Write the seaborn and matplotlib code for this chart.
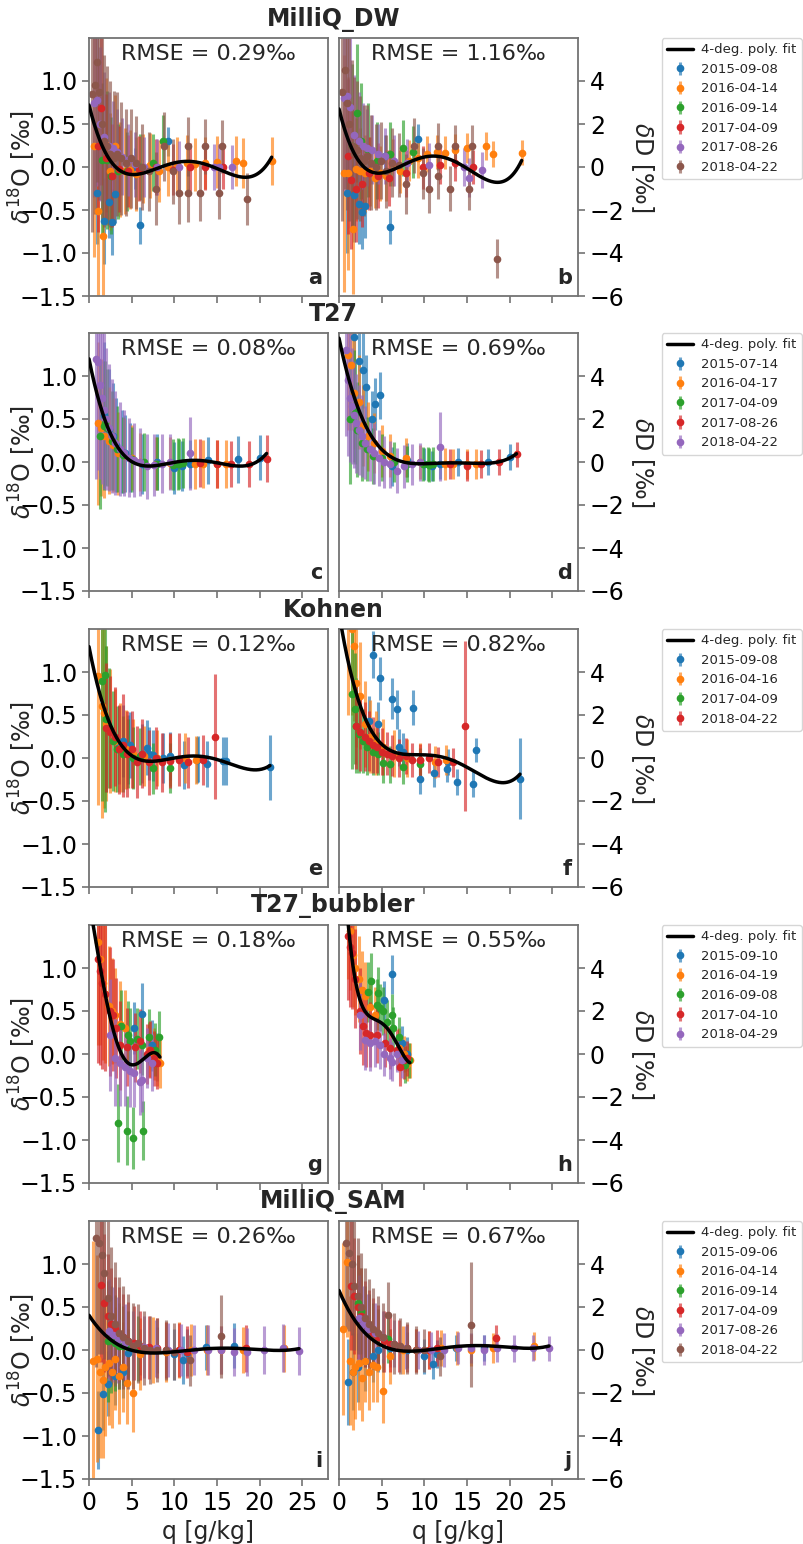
import numpy as np
import matplotlib
matplotlib.use("Agg")
import matplotlib.pyplot as plt
import seaborn as sns

# ---- MilliQ_DW ----
dw_dates = ["2015-09-08", "2016-04-14", "2016-09-14", "2017-04-09", "2017-08-26", "2018-04-22"]
dw_q = [
    [0.9, 1.7, 2.3, 2.7, 3.1, 5.4, 6.0, 9.2],
    [0.6, 1.1, 1.6, 2.0, 2.5, 3.1, 3.6, 4.2, 4.8, 5.5, 6.3, 7.2, 8.2, 9.2, 10.3, 11.5, 12.4, 13.6, 15.0, 17.2, 18.1, 21.4],
    [1.5, 2.1, 2.6, 3.4, 4.5, 6.0, 7.5, 8.7],
    [1.1, 1.4, 2.0, 2.7, 3.5, 4.6, 5.8, 7.9, 9.8, 11.8, 13.6, 15.7],
    [0.6, 0.9, 1.3, 1.8, 2.3, 2.8, 3.3, 3.9, 4.6, 5.4, 6.5, 8.0, 10.5, 14.6, 15.2, 16.7],
    [0.4, 0.7, 0.9, 1.2, 1.5, 1.8, 2.1, 2.5, 2.9, 3.3, 3.8, 4.3, 4.9, 5.5, 6.2, 7.0, 7.9, 8.8, 9.8, 10.6, 11.6, 11.6, 13.0, 13.6, 15.2, 15.6, 18.5],
]
dw_d18 = [
    [-0.30, -0.63, -0.41, -0.64, -0.31, -0.02, -0.68, 0.30],
    [0.25, -0.51, -0.80, 0.26, -0.05, 0.24, -0.03, -0.05, -0.03, -0.08, -0.02, 0.02, -0.05, 0.00, 0.02, 0.05, 0.03, 0.05, 0.06, 0.07, 0.05, 0.07],
    [0.08, 0.08, -0.10, -0.05, -0.05, 0.00, 0.05, 0.30],
    [0.25, 0.69, 0.10, -0.10, -0.02, -0.05, -0.02, 0.00, -0.03, 0.00, 0.00, 0.00],
    [0.75, 0.78, 0.50, 0.35, 0.25, 0.22, 0.18, 0.12, 0.08, 0.03, 0.00, 0.00, 0.00, 0.00, 0.00, 0.00],
    [0.85, 0.95, 1.22, 0.87, 0.50, 0.30, 0.25, 0.15, 0.10, 0.15, 0.10, 0.05, 0.10, 0.05, 0.00, -0.05, -0.25, 0.24, -0.05, -0.30, 0.24, -0.30, -0.30, 0.24, -0.30, 0.24, -0.37],
]
dw_e18 = [
    [0.60, 0.50, 0.42, 0.38, 0.34, 0.24, 0.21, 0.17],
    [1.30, 1.05, 0.90, 0.78, 0.68, 0.60, 0.55, 0.50, 0.46, 0.43, 0.40, 0.38, 0.36, 0.34, 0.33, 0.32, 0.31, 0.30, 0.30, 0.29, 0.29, 0.28],
    [0.90, 0.80, 0.68, 0.55, 0.46, 0.38, 0.33, 0.30],
    [1.00, 0.90, 0.75, 0.60, 0.50, 0.42, 0.38, 0.33, 0.30, 0.28, 0.27, 0.26],
    [1.10, 1.00, 0.90, 0.75, 0.62, 0.55, 0.50, 0.45, 0.42, 0.38, 0.35, 0.32, 0.30, 0.27, 0.27, 0.26],
    [1.60, 1.50, 1.40, 1.25, 1.10, 1.00, 0.92, 0.85, 0.78, 0.72, 0.66, 0.62, 0.58, 0.54, 0.50, 0.46, 0.42, 0.40, 0.38, 0.36, 0.34, 0.34, 0.33, 0.32, 0.31, 0.31, 0.30],
]
dw_dD = [
    [-1.2, -1.3, -1.7, -2.1, -1.8, 0.5, -2.8, 1.3],
    [-0.3, -0.3, -2.9, -0.1, -0.2, -0.3, -0.2, -0.5, -0.3, -0.4, 0.2, -0.2, 0.3, 0.4, 0.6, 0.7, 0.67, 0.8, 0.9, 0.96, 0.61, 0.67],
    [1.0, 2.5, 1.2, 0.8, 0.3, 0.6, 0.9, 0.7],
    [0.5, -0.6, -1.0, -0.8, -0.3, -0.4, -0.5, -0.3, 0.0, 0.1, 0.2, 0.0],
    [3.2, 3.3, 2.8, 1.5, 1.2, 1.0, 0.9, 0.8, 0.6, 0.5, 0.3, 0.2, 0.1, 0.0, -0.5, -0.14],
    [3.5, 4.5, 3.0, 2.0, 1.0, 0.6, 0.8, 0.4, 0.3, 0.5, 0.2, 0.0, 0.3, -0.2, 0.2, 0.1, -0.8, 1.0, -0.3, -1.0, 0.96, -0.4, -1.0, 0.96, -1.0, 0.96, -4.27],
]
dw_eD = [
    [2.8, 2.2, 1.9, 1.7, 1.5, 1.0, 0.8, 0.7],
    [5.5, 4.5, 3.0, 2.4, 2.0, 1.8, 1.6, 1.4, 1.3, 1.2, 1.1, 1.0, 0.95, 0.9, 0.85, 0.8, 0.75, 0.72, 0.7, 0.65, 0.62, 0.6],
    [3.8, 3.2, 2.7, 2.2, 1.8, 1.5, 1.3, 1.2],
    [3.6, 3.2, 2.5, 2.0, 1.7, 1.5, 1.3, 1.1, 1.0, 0.9, 0.85, 0.8],
    [4.3, 4.0, 3.5, 2.8, 2.3, 2.0, 1.8, 1.6, 1.4, 1.3, 1.2, 1.1, 1.0, 0.9, 0.9, 0.85],
    [6.0, 5.5, 5.0, 4.5, 4.0, 3.6, 3.2, 2.9, 2.6, 2.4, 2.2, 2.0, 1.8, 1.7, 1.6, 1.5, 1.4, 1.3, 1.2, 1.15, 1.1, 1.1, 1.05, 1.0, 1.0, 1.0, 0.9],
]

# ---- T27 ----
t27_dates = ["2015-07-14", "2016-04-17", "2017-04-09", "2017-08-26", "2018-04-22"]
t27_q = [
    [1.8, 2.3, 2.8, 3.2, 3.9, 4.2, 4.8, 6.2, 8.0, 10.0, 10.9, 11.8, 14.0, 17.5, 20.0],
    [1.0, 1.4, 1.7, 2.3, 2.8, 3.4, 4.1, 5.0, 6.0, 7.9, 9.5, 12.4, 13.4, 15.0, 16.0],
    [1.3, 1.7, 1.9, 2.1, 2.7, 3.3, 4.0, 5.0, 6.4, 8.0, 9.8, 10.4, 10.6, 11.0],
    [13.0, 15.0, 16.6, 18.7, 20.8],
    [0.8, 1.0, 1.3, 1.5, 1.7, 2.0, 2.3, 2.7, 3.1, 3.6, 4.1, 4.7, 5.3, 6.0, 6.8, 7.6, 8.6, 9.5, 11.8],
]
t27_d18 = [
    [0.55, 0.38, 0.30, 0.20, 0.12, 0.10, 0.05, -0.02, 0.00, -0.07, -0.05, -0.02, 0.02, 0.03, 0.05],
    [0.45, 0.40, 0.30, 0.25, 0.20, 0.10, 0.08, 0.05, 0.00, -0.02, -0.01, -0.02, -0.02, -0.02, -0.02],
    [0.30, 0.42, 0.45, 0.40, 0.25, 0.15, 0.08, 0.03, 0.00, -0.02, -0.03, -0.02, -0.02, -0.01],
    [-0.01, -0.02, -0.02, -0.02, 0.04],
    [1.20, 1.16, 0.90, 0.75, 0.61, 0.50, 0.40, 0.30, 0.22, 0.15, 0.10, 0.05, 0.02, 0.00, -0.05, -0.03, -0.02, 0.00, 0.10],
]
t27_e18 = [
    [0.85, 0.70, 0.62, 0.55, 0.48, 0.45, 0.40, 0.35, 0.32, 0.30, 0.29, 0.28, 0.27, 0.27, 0.26],
    [0.95, 0.80, 0.72, 0.62, 0.55, 0.48, 0.43, 0.38, 0.34, 0.31, 0.30, 0.29, 0.28, 0.28, 0.28],
    [0.85, 0.75, 0.72, 0.68, 0.58, 0.50, 0.44, 0.38, 0.34, 0.31, 0.30, 0.30, 0.29, 0.29],
    [0.28, 0.28, 0.27, 0.27, 0.27],
    [1.40, 1.25, 1.10, 1.00, 0.92, 0.82, 0.74, 0.66, 0.60, 0.55, 0.50, 0.46, 0.43, 0.40, 0.38, 0.36, 0.34, 0.33, 0.42],
]
t27_dD = [
    [5.8, 4.7, 4.3, 3.5, 2.0, 2.7, 3.1, -0.2, 0.1, -0.1, -0.2, -0.1, 0.0, 0.0, 0.25],
    [5.0, 4.5, 3.2, 2.8, 1.7, 1.2, 0.9, 0.5, 0.3, 0.2, 0.0, -0.1, -0.1, -0.1, -0.1],
    [2.0, 2.6, 2.3, 1.5, 0.9, 0.6, 0.3, 0.2, 0.0, -0.1, -0.1, -0.1, -0.15, -0.1],
    [-0.1, -0.2, -0.1, 0.0, 0.35],
    [5.2, 3.8, 3.0, 2.6, 2.2, 1.8, 1.5, 1.2, 0.9, 0.6, 0.4, 0.2, 0.0, -0.1, -0.4, -0.2, -0.1, 0.0, 0.72],
]
t27_eD = [
    [2.5, 2.0, 1.8, 1.5, 1.3, 1.2, 1.1, 0.9, 0.8, 0.75, 0.7, 0.7, 0.65, 0.6, 0.6],
    [3.5, 3.0, 2.6, 2.2, 1.9, 1.6, 1.4, 1.2, 1.0, 0.9, 0.8, 0.75, 0.7, 0.7, 0.7],
    [3.0, 2.6, 2.4, 2.2, 1.8, 1.5, 1.3, 1.1, 0.95, 0.85, 0.8, 0.8, 0.78, 0.78],
    [0.7, 0.7, 0.65, 0.6, 0.6],
    [4.0, 3.5, 3.0, 2.7, 2.5, 2.3, 2.1, 1.9, 1.7, 1.5, 1.4, 1.3, 1.2, 1.1, 1.05, 1.0, 0.95, 0.9, 1.6],
]

# ---- Kohnen ----
koh_dates = ["2015-09-08", "2016-04-16", "2017-04-09", "2018-04-22"]
koh_q = [
    [3.5, 4.0, 4.6, 4.8, 6.2, 6.8, 7.0, 7.5, 8.7, 9.5, 11.1, 12.6, 12.8, 13.8, 15.7, 16.1, 21.2],
    [1.1, 1.5, 1.7, 2.0, 2.5, 3.0, 3.6, 4.3, 5.2, 6.5, 8.0, 9.5, 11.3, 12.5],
    [1.5, 1.9, 2.0, 2.4, 2.8, 3.3, 4.0, 4.6, 5.2, 6.0, 7.5, 9.5],
    [2.0, 2.5, 3.0, 3.5, 4.0, 4.4, 5.0, 5.6, 6.2, 7.0, 7.8, 8.6, 9.5, 10.5, 11.6, 13.3, 14.8],
]
koh_d18 = [
    [0.15, 0.20, 0.10, 0.15, 0.05, 0.12, 0.05, 0.03, 0.00, 0.02, -0.08, -0.02, -0.01, -0.07, -0.03, -0.03, -0.11],
    [0.95, 0.60, 0.52, 0.40, 0.31, 0.20, 0.12, 0.10, 0.05, 0.02, 0.00, -0.02, 0.00, -0.02],
    [0.90, 0.97, 0.45, 0.35, 0.20, 0.10, 0.05, 0.05, 0.00, 0.02, -0.12, -0.12],
    [0.35, 0.30, 0.25, 0.10, 0.15, 0.05, 0.10, -0.05, 0.05, -0.05, 0.00, -0.05, -0.03, -0.02, -0.05, -0.02, 0.25],
]
koh_e18 = [
    [0.45, 0.42, 0.40, 0.38, 0.34, 0.32, 0.31, 0.30, 0.29, 0.28, 0.28, 0.27, 0.27, 0.27, 0.28, 0.28, 0.38],
    [1.50, 1.30, 1.10, 0.90, 0.72, 0.60, 0.52, 0.46, 0.40, 0.35, 0.32, 0.30, 0.29, 0.28],
    [1.40, 1.60, 0.85, 0.70, 0.58, 0.50, 0.44, 0.40, 0.36, 0.33, 0.30, 0.29],
    [0.75, 0.65, 0.58, 0.52, 0.60, 0.50, 0.45, 0.42, 0.40, 0.38, 0.36, 0.34, 0.32, 0.31, 0.30, 0.29, 0.73],
]
koh_dD = [
    [1.7, 4.8, 1.6, 3.7, 2.75, 2.26, 0.5, 0.3, 2.34, -0.96, -0.72, -0.53, -0.2, -1.1, -1.2, 0.38, -0.96],
    [6.5, 6.0, 5.2, 3.5, 2.9, 1.6, 1.0, 0.7, 0.5, 0.2, 0.0, -0.1, -0.2, -0.1],
    [3.0, 2.3, 1.5, 1.1, 0.8, 0.5, 0.3, 0.2, -0.25, -0.3, -0.4, -0.3],
    [1.5, 1.2, 1.0, 0.8, 0.6, 0.5, 0.3, 0.2, 0.1, 0.0, 0.1, -0.1, -0.1, 0.0, -0.2, -0.2, 1.47],
]
koh_eD = [
    [1.2, 1.1, 1.0, 1.0, 0.95, 0.9, 0.85, 0.85, 0.8, 0.7, 0.65, 0.6, 0.6, 0.6, 0.6, 0.55, 1.9],
    [4.5, 4.0, 3.5, 3.0, 2.5, 2.0, 1.7, 1.5, 1.3, 1.1, 0.9, 0.8, 0.75, 0.7],
    [3.5, 2.6, 2.2, 1.8, 1.5, 1.3, 1.1, 1.0, 0.9, 0.85, 0.8, 0.75],
    [2.0, 1.8, 1.6, 1.4, 1.3, 1.2, 1.1, 1.0, 0.95, 0.9, 0.85, 0.8, 0.75, 0.72, 0.7, 0.68, 3.95],
]

# ---- T27_bubbler ----
bub_dates = ["2015-09-10", "2016-04-19", "2016-09-08", "2017-04-10", "2018-04-29"]
bub_q = [
    [5.3, 6.2, 7.4, 8.0],
    [1.0, 1.3, 1.6, 1.9, 2.3, 2.7, 3.1, 3.6, 4.2, 7.0, 7.6, 8.0, 8.3],
    [3.4, 3.8, 4.4, 4.6, 4.8, 5.2, 5.6, 6.2, 6.3, 7.0, 7.7, 8.2],
    [1.0, 1.3, 1.5, 1.9, 2.5, 2.8, 3.2, 3.6, 4.4, 5.4, 6.0, 6.8, 7.2, 7.6, 8.0],
    [2.5, 3.1, 3.6, 4.2, 4.8, 5.3, 6.0, 6.2, 6.8, 7.4],
]
bub_d18 = [
    [0.30, 0.46, 0.10, -0.03],
    [1.30, 1.10, 0.83, 0.70, 0.56, 0.50, 0.45, 0.35, 0.30, 0.05, 0.00, -0.07, -0.10],
    [-0.80, 0.32, -0.89, 0.22, 0.15, -0.98, 0.18, 0.10, -0.89, 0.20, 0.05, 0.20],
    [1.10, 0.97, 0.83, 0.70, 0.50, 0.45, 0.30, 0.10, 0.08, 0.08, 0.15, 0.00, 0.05, -0.05, -0.10],
    [0.22, -0.05, -0.10, -0.15, -0.20, -0.22, -0.33, -0.30, -0.05, -0.10],
]
bub_e18 = [
    [0.30, 0.37, 0.30, 0.28],
    [1.20, 1.00, 0.90, 0.80, 0.70, 0.62, 0.55, 0.50, 0.45, 0.32, 0.30, 0.30, 0.30],
    [0.45, 0.42, 0.40, 0.40, 0.38, 0.36, 0.35, 0.34, 0.34, 0.32, 0.31, 0.30],
    [1.20, 1.10, 1.00, 0.90, 0.75, 0.65, 0.58, 0.52, 0.45, 0.40, 0.37, 0.35, 0.33, 0.32, 0.31],
    [0.65, 0.55, 0.50, 0.45, 0.42, 0.40, 0.38, 0.37, 0.35, 0.33],
]
bub_dD = [
    [2.5, 3.7, 0.5, 0.0],
    [6.5, 5.7, 4.6, 4.0, 3.5, 3.0, 2.7, 2.2, 1.8, 0.3, 0.0, -0.45, -0.3],
    [2.9, 3.4, 2.3, 2.85, 2.15, 2.0, 1.5, 1.8, 1.2, 0.8, -0.5, -0.3],
    [5.5, 5.0, 4.7, 3.5, 2.0, 1.3, 1.0, 0.9, 0.9, 0.5, 0.3, 0.2, -0.6, -0.3, -0.2],
    [1.8, 0.65, 0.5, 0.6, 0.4, 0.0, -0.2, -0.35, 0.0, -0.3],
]
bub_eD = [
    [0.9, 0.9, 0.8, 0.8],
    [3.0, 2.7, 2.4, 2.2, 2.0, 1.8, 1.6, 1.4, 1.3, 0.9, 0.85, 0.8, 0.8],
    [1.4, 1.3, 1.2, 1.2, 1.1, 1.1, 1.0, 1.0, 1.0, 0.9, 0.85, 0.8],
    [3.0, 2.8, 2.6, 2.3, 2.0, 1.8, 1.6, 1.5, 1.3, 1.1, 1.0, 0.95, 0.9, 0.85, 0.8],
    [1.6, 1.4, 1.3, 1.2, 1.1, 1.0, 0.95, 0.9, 0.85, 0.8],
]

# ---- MilliQ_SAM ----
sam_dates = ["2015-09-06", "2016-04-14", "2016-09-14", "2017-04-09", "2017-08-26", "2018-04-22"]
sam_q = [
    [1.0, 1.6, 2.2, 3.0, 4.0, 4.6, 6.0, 8.0, 10.0, 11.0, 11.5, 13.7, 17.0],
    [0.5, 0.9, 1.3, 1.6, 1.9, 2.3, 2.7, 3.1, 3.5, 4.0, 4.5, 5.2, 6.0, 7.5, 9.0, 10.5, 12.0, 13.8, 15.5, 18.0, 22.9],
    [2.2, 2.6, 3.0, 3.5, 4.0, 4.6, 5.7],
    [1.4, 1.8, 2.2, 2.6, 3.0, 3.5, 4.0, 4.6, 5.3, 6.0, 7.0, 8.0, 9.0, 10.6, 11.5, 18.4],
    [2.3, 2.8, 3.4, 4.2, 5.2, 6.4, 7.8, 9.3, 10.8, 12.3, 13.9, 15.5, 17.0, 18.5, 20.5, 22.7, 24.6],
    [0.8, 1.2, 1.5, 1.8, 2.2, 2.6, 3.0, 3.5, 4.0, 4.6, 5.2, 5.7, 6.4, 7.2, 8.0, 9.0, 10.0, 11.8, 15.5],
]
sam_d18 = [
    [-0.93, -0.51, -0.39, -0.30, -0.26, -0.03, -0.02, 0.00, -0.05, -0.12, -0.03, 0.03, 0.05],
    [-0.13, -0.10, -0.25, -0.35, -0.20, -0.15, -0.25, -0.10, -0.30, -0.20, -0.38, -0.50, -0.05, 0.00, -0.02, 0.00, 0.00, 0.00, 0.00, 0.00, 0.02],
    [0.10, 0.12, 0.08, 0.05, 0.05, 0.03, 0.02],
    [0.76, 0.55, 0.40, 0.30, 0.25, 0.18, 0.15, 0.10, 0.08, 0.05, 0.03, 0.02, 0.00, 0.00, -0.02, 0.02],
    [0.22, 0.18, 0.12, 0.08, 0.05, 0.03, 0.02, 0.00, 0.00, 0.00, 0.00, 0.00, -0.02, -0.02, 0.00, 0.02, -0.01],
    [1.30, 1.25, 1.10, 0.90, 0.60, 0.40, 0.30, 0.20, 0.15, 0.10, 0.05, 0.08, 0.02, 0.00, 0.00, 0.00, -0.02, -0.12, 0.16],
]
sam_e18 = [
    [0.45, 0.42, 0.38, 0.34, 0.30, 0.28, 0.27, 0.27, 0.30, 0.28, 0.27, 0.26, 0.26],
    [1.40, 1.20, 1.00, 0.90, 0.80, 0.72, 0.66, 0.60, 0.56, 0.52, 0.48, 0.45, 0.42, 0.38, 0.35, 0.32, 0.30, 0.29, 0.28, 0.27, 0.27],
    [0.70, 0.62, 0.56, 0.50, 0.46, 0.42, 0.38],
    [0.90, 0.80, 0.72, 0.65, 0.60, 0.55, 0.50, 0.46, 0.43, 0.40, 0.37, 0.35, 0.33, 0.31, 0.30, 0.27],
    [0.60, 0.55, 0.50, 0.45, 0.40, 0.36, 0.33, 0.31, 0.30, 0.29, 0.29, 0.28, 0.28, 0.28, 0.28, 0.28, 0.28],
    [1.50, 1.30, 1.15, 1.00, 0.90, 0.80, 0.72, 0.65, 0.60, 0.55, 0.50, 0.46, 0.43, 0.40, 0.37, 0.35, 0.33, 0.30, 0.48],
]
sam_dD = [
    [-1.5, -1.0, -0.8, -0.5, -0.3, 0.0, 0.1, 0.0, -0.3, -0.63, -0.2, 0.1, 0.1],
    [1.0, 4.1, -0.5, -1.0, -0.8, -0.6, -1.3, -0.5, -1.0, -0.7, -0.8, -1.9, -0.3, 0.0, 0.0, 0.0, 0.1, 0.1, 0.0, 0.1, 0.2],
    [2.2, 1.8, 1.2, 1.0, 0.8, 0.6, 0.5],
    [3.0, 2.5, 2.0, 1.6, 1.2, 1.0, 0.8, 0.6, 0.4, 0.3, 0.2, 0.1, 0.0, 0.0, 0.1, 0.55],
    [1.5, 1.2, 1.0, 0.8, 0.6, 0.3, 0.1, 0.0, 0.0, 0.0, 0.1, 0.1, 0.0, 0.1, 0.07, 0.1, 0.07],
    [5.0, 4.5, 4.0, 3.0, 2.5, 2.0, 1.5, 1.2, 1.0, 0.8, 0.6, 1.65, 0.3, 0.2, 0.1, 0.0, 0.0, -0.3, 1.18],
]
sam_eD = [
    [2.0, 1.8, 1.6, 1.4, 1.2, 1.0, 0.9, 0.85, 0.8, 0.7, 0.65, 0.6, 0.6],
    [4.0, 3.5, 3.0, 2.7, 2.4, 2.2, 2.0, 1.9, 1.8, 1.7, 1.6, 1.5, 1.3, 1.1, 1.0, 0.9, 0.85, 0.8, 0.75, 0.7, 0.65],
    [2.2, 2.0, 1.8, 1.6, 1.4, 1.3, 1.1],
    [3.0, 2.7, 2.4, 2.2, 2.0, 1.8, 1.6, 1.5, 1.4, 1.3, 1.2, 1.1, 1.0, 0.9, 0.85, 0.6],
    [2.0, 1.8, 1.6, 1.4, 1.2, 1.1, 1.0, 0.9, 0.85, 0.8, 0.75, 0.7, 0.7, 0.65, 0.65, 0.6, 0.6],
    [4.0, 3.6, 3.3, 3.0, 2.7, 2.5, 2.3, 2.1, 1.9, 1.7, 1.6, 1.5, 1.4, 1.3, 1.2, 1.1, 1.0, 0.9, 2.9],
]

row_titles = ["MilliQ_DW", "T27", "Kohnen", "T27_bubbler", "MilliQ_SAM"]
rmse_18O = ["0.29", "0.08", "0.12", "0.18", "0.26"]
rmse_D = ["1.16", "0.69", "0.82", "0.55", "0.67"]
panel_letters = ["a", "b", "c", "d", "e", "f", "g", "h", "i", "j"]

rows = [
    (dw_dates, dw_q, dw_d18, dw_e18, dw_dD, dw_eD),
    (t27_dates, t27_q, t27_d18, t27_e18, t27_dD, t27_eD),
    (koh_dates, koh_q, koh_d18, koh_e18, koh_dD, koh_eD),
    (bub_dates, bub_q, bub_d18, bub_e18, bub_dD, bub_eD),
    (sam_dates, sam_q, sam_d18, sam_e18, sam_dD, sam_eD),
]

sns.set_style("ticks")
plt.rcParams["font.family"] = ["DejaVu Sans"]
plt.rcParams["axes.edgecolor"] = "0.45"
plt.rcParams["axes.linewidth"] = 1.3
plt.rcParams["xtick.color"] = "0.45"
plt.rcParams["ytick.color"] = "0.45"
plt.rcParams["xtick.labelcolor"] = "black"
plt.rcParams["ytick.labelcolor"] = "black"
palette = sns.color_palette("tab10")

W, H = 804, 1544
fig = plt.figure(figsize=(W / 100, H / 100), dpi=100)

row_tops = [38, 333, 629, 925, 1221]
ax_h = 258
ax_w = 239
lefts = [89, 339]


def draw_panel(ax, q, vals, errs, dates, colors):
    conts = []
    for i in range(len(dates)):
        c = colors[i]
        cont = ax.errorbar(q[i], vals[i], yerr=errs[i], fmt="o", color=c, ms=4.5,
                           ecolor=(c[0], c[1], c[2], 0.65), elinewidth=2.2, capsize=0,
                           label=dates[i], zorder=2)
        conts.append(cont)
    # 4th degree polynomial through all dates of the row
    allq = np.concatenate([np.asarray(a) for a in q])
    allv = np.concatenate([np.asarray(a) for a in vals])
    coef = np.polyfit(allq, allv, 4)
    qq = np.linspace(0, allq.max(), 200)
    sns.lineplot(x=qq, y=np.polyval(coef, qq), color="black", lw=2.5, ax=ax,
                 legend=False, zorder=3)
    return conts, ax.lines[-1]


for r, (dates, q, d18, e18, dD, eD) in enumerate(rows):
    top = row_tops[r]
    bottom = H - top - ax_h
    axL = fig.add_axes([lefts[0] / W, bottom / H, ax_w / W, ax_h / H])
    axR = fig.add_axes([lefts[1] / W, bottom / H, ax_w / W, ax_h / H])
    colors = palette[:len(dates)]

    draw_panel(axL, q, d18, e18, dates, colors)
    conts, fit_line = draw_panel(axR, q, dD, eD, dates, colors)

    for ax in (axL, axR):
        ax.set_xlim(0, 28)
        ax.set_xticks([0, 5, 10, 15, 20, 25])
        ax.tick_params(axis="both", labelsize=17, length=5, width=1.2)
        if r < 4:
            ax.set_xticklabels([])
        else:
            ax.set_xlabel("q [g/kg]", fontsize=17)

    axL.set_ylim(-1.5, 1.5)
    axL.set_yticks([-1.5, -1.0, -0.5, 0.0, 0.5, 1.0])
    axL.set_ylabel(r"$\delta^{18}$O [‰]", fontsize=17)
    axL.yaxis.set_label_coords(-0.215, 0.5)

    axR.set_ylim(-6, 6)
    axR.set_yticks([-6, -4, -2, 0, 2, 4])
    axR.yaxis.tick_right()
    axR.yaxis.set_label_position("right")
    axR.set_ylabel(r"$\delta$D [‰]", fontsize=17, rotation=270, va="bottom")
    axR.yaxis.set_label_coords(1.215, 0.5)

    axL.text(0.5, 0.975, "RMSE = " + rmse_18O[r] + "‰", transform=axL.transAxes,
             ha="center", va="top", fontsize=16)
    axR.text(0.5, 0.975, "RMSE = " + rmse_D[r] + "‰", transform=axR.transAxes,
             ha="center", va="top", fontsize=16)
    axL.text(0.975, 0.03, panel_letters[2 * r], transform=axL.transAxes,
             ha="right", va="bottom", fontsize=15, fontweight="bold")
    axR.text(0.975, 0.03, panel_letters[2 * r + 1], transform=axR.transAxes,
             ha="right", va="bottom", fontsize=15, fontweight="bold")

    fig.text(333.5 / W, 1 - (top - 19) / H, row_titles[r], ha="center", va="center",
             fontsize=17, fontweight="bold")

    axR.legend([fit_line] + conts, ["4-deg. poly. fit"] + dates, loc="upper left",
               bbox_to_anchor=(1.35, 1.0), fontsize=9.5, frameon=True,
               handlelength=2.0, handletextpad=0.6, borderaxespad=0.0)

fig.savefig("out.png", dpi=100)
